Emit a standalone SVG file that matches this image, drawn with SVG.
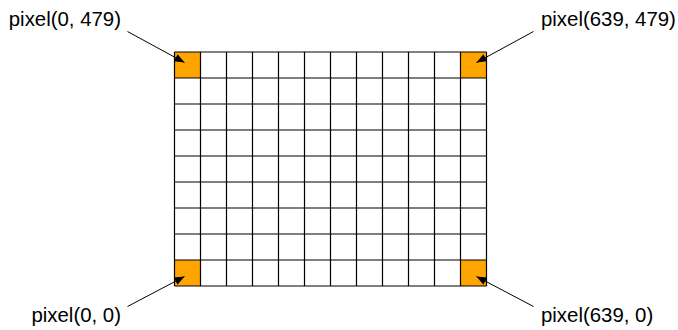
<svg xmlns="http://www.w3.org/2000/svg" width="678" height="330" viewBox="0 0 678 330">
<style>
.lbl{font-family:"Liberation Sans",Arial,sans-serif;font-size:20.4px;fill:#000}
.cell{fill:#FFA500;stroke:none}
.grid{stroke:#000;stroke-width:1.2;fill:none}
.arr{stroke:#000;stroke-width:1;fill:none;marker-end:url(#ah)}
</style>
<defs>
<marker id="ah" viewBox="0 0 10 8" refX="10" refY="4" markerWidth="10" markerHeight="8" markerUnits="userSpaceOnUse" orient="auto">
<path d="M0,0 L10,4 L0,8 Z" fill="#000"/>
</marker>
</defs>
<g id="grid">
<rect class="cell" x="174.5" y="52" width="26" height="26"/>
<rect class="cell" x="460.5" y="52" width="26" height="26"/>
<rect class="cell" x="174.5" y="260" width="26" height="26"/>
<rect class="cell" x="460.5" y="260" width="26" height="26"/>
<path class="grid" d="M174.5,52V286M200.5,52V286M226.5,52V286M252.5,52V286M278.5,52V286M304.5,52V286M330.5,52V286M356.5,52V286M382.5,52V286M408.5,52V286M434.5,52V286M460.5,52V286M486.5,52V286
M174.5,52H486.5M174.5,78H486.5M174.5,104H486.5M174.5,130H486.5M174.5,156H486.5M174.5,182H486.5M174.5,208H486.5M174.5,234H486.5M174.5,260H486.5M174.5,286H486.5"/>
</g>
<g id="label-tl"><text class="lbl" x="121" y="26" text-anchor="end">pixel(0, 479)</text></g>
<g id="label-tr"><text class="lbl" x="541" y="26">pixel(639, 479)</text></g>
<g id="label-bl"><text class="lbl" x="121" y="322" text-anchor="end">pixel(0, 0)</text></g>
<g id="label-br"><text class="lbl" x="541" y="322">pixel(639, 0)</text></g>
<g id="connectors">
<line class="arr" x1="127.5" y1="31.5" x2="184.5" y2="62.5"/>
<line class="arr" x1="533.5" y1="31.5" x2="476.5" y2="62.5"/>
<line class="arr" x1="127.5" y1="306.5" x2="184.5" y2="276.5"/>
<line class="arr" x1="533.5" y1="306.5" x2="476.5" y2="276.5"/>
</g>
</svg>
